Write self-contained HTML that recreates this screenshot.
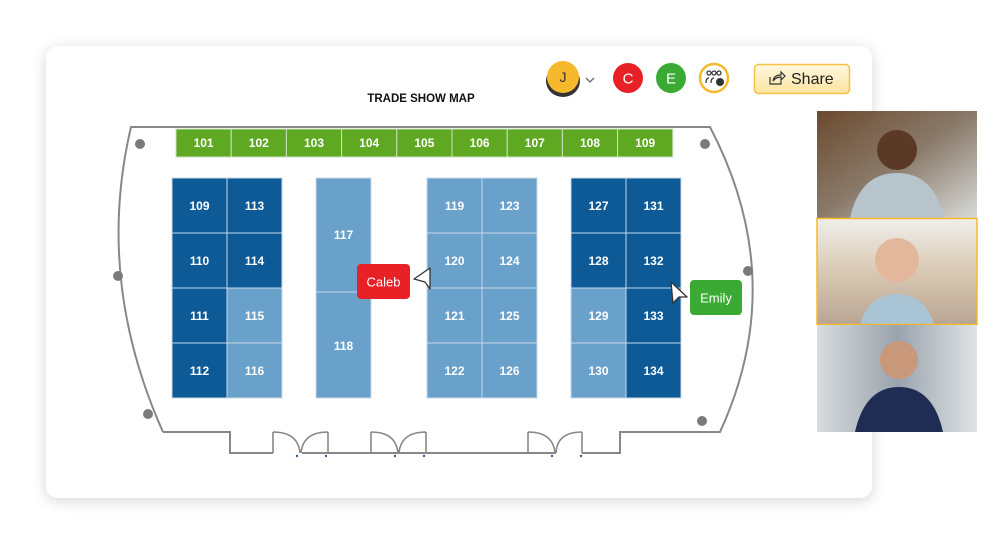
<!DOCTYPE html><html><head><style>body{margin:0;background:#fff;width:1000px;height:550px;overflow:hidden;font-family:"Liberation Sans",sans-serif}</style></head><body>
<svg width="1000" height="550" xmlns="http://www.w3.org/2000/svg" font-family="Liberation Sans, sans-serif">
<defs><filter id="sh" x="-10%" y="-10%" width="120%" height="130%"><feDropShadow dx="0" dy="3" stdDeviation="7" flood-color="#000" flood-opacity="0.16"/></filter>
<linearGradient id="sg" x1="0" y1="0" x2="0" y2="1"><stop offset="0" stop-color="#fff8e0"/><stop offset="1" stop-color="#fbe4a0"/></linearGradient>
<linearGradient id="v1" x1="0" y1="0" x2="1" y2="1"><stop offset="0" stop-color="#6b4a2e"/><stop offset=".5" stop-color="#8a7a6a"/><stop offset="1" stop-color="#d8dad8"/></linearGradient>
<linearGradient id="v2" x1="0" y1="0" x2="0" y2="1"><stop offset="0" stop-color="#f0eeea"/><stop offset=".5" stop-color="#d9c9b4"/><stop offset="1" stop-color="#b9a594"/></linearGradient>
<linearGradient id="v3" x1="0" y1="0" x2="1" y2="0"><stop offset="0" stop-color="#d8dcde"/><stop offset=".5" stop-color="#9aa3ad"/><stop offset="1" stop-color="#dfe3e6"/></linearGradient></defs>
<rect x="46" y="46" width="826" height="452" rx="12" fill="#fff" filter="url(#sh)"/>
<text x="421" y="102" text-anchor="middle" font-size="11.5" font-weight="bold" fill="#111">TRADE SHOW MAP</text>
<path d="M163,432 Q95,280 131,127 L710,127 Q790,280 720,432 L620,432 L620,453 L582,453 M556,453 L528,453 M426,453 L371,453 M328,453 L302,453 M273,453 L230,453 L230,432 L163,432" fill="none" stroke="#888" stroke-width="2"/>
<path d="M230,453 L273,453 M328,453 L371,453 M426,453 L528,453 M582,453 L620,453" stroke="#888" stroke-width="2"/>
<path d="M273,432 Q298,432 300,453 M328,432 Q303,432 301,453 M371,432 Q396,432 398,453 M426,432 Q401,432 399,453 M528,432 Q553,432 555,453 M582,432 Q557,432 556,453 M273,432 V453 M328,432V453 M371,432V453 M426,432V453 M528,432V453 M582,432V453" fill="none" stroke="#888" stroke-width="1.6"/>
<g fill="#2a5a9a"><circle cx="297" cy="456" r="1.2"/><circle cx="326" cy="456" r="1.2"/><circle cx="395" cy="456" r="1.2"/><circle cx="424" cy="456" r="1.2"/><circle cx="552" cy="456" r="1.2"/><circle cx="581" cy="456" r="1.2"/></g>
<g fill="#7a7a7a"><circle cx="140" cy="144" r="5"/><circle cx="118" cy="276" r="5"/><circle cx="148" cy="414" r="5"/><circle cx="705" cy="144" r="5"/><circle cx="748" cy="271" r="5"/><circle cx="702" cy="421" r="5"/></g>
<g stroke="#cfe0c0" stroke-width="1" fill="#5fa821">
<rect x="176" y="129" width="55.2" height="28"/><rect x="231.2" y="129" width="55.2" height="28"/><rect x="286.4" y="129" width="55.2" height="28"/><rect x="341.6" y="129" width="55.2" height="28"/><rect x="396.8" y="129" width="55.2" height="28"/><rect x="452" y="129" width="55.2" height="28"/><rect x="507.2" y="129" width="55.2" height="28"/><rect x="562.4" y="129" width="55.2" height="28"/><rect x="617.6" y="129" width="55.2" height="28"/></g>
<g fill="#fff" font-size="12" font-weight="bold" text-anchor="middle">
<text x="203.6" y="147">101</text><text x="258.8" y="147">102</text><text x="314" y="147">103</text><text x="369.2" y="147">104</text><text x="424.4" y="147">105</text><text x="479.6" y="147">106</text><text x="534.8" y="147">107</text><text x="590" y="147">108</text><text x="645.2" y="147">109</text></g>
<g stroke="#c8d8e8" stroke-width="1">
<rect x="172" y="178" width="55" height="55" fill="#0d5a96"/><rect x="172" y="233" width="55" height="55" fill="#0d5a96"/><rect x="172" y="288" width="55" height="55" fill="#0d5a96"/><rect x="172" y="343" width="55" height="55" fill="#0d5a96"/>
<rect x="227" y="178" width="55" height="55" fill="#0d5a96"/><rect x="227" y="233" width="55" height="55" fill="#0d5a96"/><rect x="227" y="288" width="55" height="55" fill="#69a1cb"/><rect x="227" y="343" width="55" height="55" fill="#69a1cb"/>
<rect x="316" y="178" width="55" height="114" fill="#69a1cb"/><rect x="316" y="292" width="55" height="106" fill="#69a1cb"/>
<rect x="427" y="178" width="55" height="55" fill="#69a1cb"/><rect x="427" y="233" width="55" height="55" fill="#69a1cb"/><rect x="427" y="288" width="55" height="55" fill="#69a1cb"/><rect x="427" y="343" width="55" height="55" fill="#69a1cb"/>
<rect x="482" y="178" width="55" height="55" fill="#69a1cb"/><rect x="482" y="233" width="55" height="55" fill="#69a1cb"/><rect x="482" y="288" width="55" height="55" fill="#69a1cb"/><rect x="482" y="343" width="55" height="55" fill="#69a1cb"/>
<rect x="571" y="178" width="55" height="55" fill="#0d5a96"/><rect x="571" y="233" width="55" height="55" fill="#0d5a96"/><rect x="571" y="288" width="55" height="55" fill="#69a1cb"/><rect x="571" y="343" width="55" height="55" fill="#69a1cb"/>
<rect x="626" y="178" width="55" height="55" fill="#0d5a96"/><rect x="626" y="233" width="55" height="55" fill="#0d5a96"/><rect x="626" y="288" width="55" height="55" fill="#0d5a96"/><rect x="626" y="343" width="55" height="55" fill="#0d5a96"/></g>
<g fill="#fff" font-size="12" font-weight="bold" text-anchor="middle">
<text x="199.5" y="210">109</text><text x="199.5" y="265">110</text><text x="199.5" y="320">111</text><text x="199.5" y="375">112</text>
<text x="254.5" y="210">113</text><text x="254.5" y="265">114</text><text x="254.5" y="320">115</text><text x="254.5" y="375">116</text>
<text x="343.5" y="239">117</text><text x="343.5" y="350">118</text>
<text x="454.5" y="210">119</text><text x="454.5" y="265">120</text><text x="454.5" y="320">121</text><text x="454.5" y="375">122</text>
<text x="509.5" y="210">123</text><text x="509.5" y="265">124</text><text x="509.5" y="320">125</text><text x="509.5" y="375">126</text>
<text x="598.5" y="210">127</text><text x="598.5" y="265">128</text><text x="598.5" y="320">129</text><text x="598.5" y="375">130</text>
<text x="653.5" y="210">131</text><text x="653.5" y="265">132</text><text x="653.5" y="320">133</text><text x="653.5" y="375">134</text></g>
<rect x="357" y="264" width="53" height="35" rx="4" fill="#e82127"/><text x="383.5" y="286.5" text-anchor="middle" font-size="13" fill="#fff">Caleb</text>
<path d="M414,279 L430,268 L430,289 L425,282 Z" fill="#fff" stroke="#333" stroke-width="1.3" stroke-linejoin="round"/>
<rect x="690" y="280" width="52" height="35" rx="4" fill="#3aaa35"/><text x="716" y="302.5" text-anchor="middle" font-size="13" fill="#fff">Emily</text>
<path d="M671,282 L687,297 L679,297 L673,303 Z" fill="#fff" stroke="#333" stroke-width="1.3" stroke-linejoin="round"/>
<ellipse cx="563" cy="81" rx="17" ry="16" fill="#333"/><circle cx="563" cy="77" r="16" fill="#f6b92c"/><text x="563" y="82" text-anchor="middle" font-size="14" fill="#333">J</text>
<path d="M586,78 L590,82 L594,78" fill="none" stroke="#666" stroke-width="1.3"/>
<circle cx="628" cy="78" r="15" fill="#e82127"/><text x="628" y="83.5" text-anchor="middle" font-size="15" fill="#fff">C</text>
<circle cx="671" cy="78" r="15" fill="#3aaa35"/><text x="671" y="83.5" text-anchor="middle" font-size="15" fill="#fff">E</text>
<circle cx="714" cy="78" r="14" fill="#fff" stroke="#f6b92c" stroke-width="2.5"/>
<g fill="none" stroke="#333" stroke-width="1.2"><circle cx="709" cy="73" r="2"/><circle cx="714" cy="73" r="2"/><circle cx="719" cy="73" r="2"/><path d="M706,83 q0,-5 3,-5 M711,83 q0,-5 3,-5"/></g><circle cx="720" cy="82" r="4" fill="#333"/>
<rect x="754.5" y="64.5" width="95" height="29" rx="4" fill="url(#sg)" stroke="#f5c244" stroke-width="1.5"/>
<path d="M770,77 v7 h11 v-3 M773,81 q1,-6 8,-6 v-3 l4,4 -4,4 v-3 q-5,0 -8,4z" fill="none" stroke="#333" stroke-width="1.2"/>
<text x="791" y="84" font-size="16" fill="#222">Share</text>
<rect x="817" y="111" width="160" height="107" fill="url(#v1)"/>
<circle cx="897" cy="150" r="20" fill="#5a3a26"/><path d="M850,218 q10,-45 47,-45 q37,0 47,45z" fill="#b8c4cc"/>
<rect x="817" y="219" width="160" height="105" fill="url(#v2)"/>
<circle cx="897" cy="260" r="22" fill="#e2b79c"/><path d="M860,324 q10,-30 37,-30 q27,0 37,30z" fill="#a9c4d4"/>
<rect x="817" y="218.5" width="160" height="106" fill="none" stroke="#f6b92c" stroke-width="1.5"/>
<rect x="817" y="325" width="160" height="107" fill="url(#v3)"/>
<circle cx="899" cy="360" r="19" fill="#c9987a"/><path d="M855,432 q10,-45 44,-45 q34,0 44,45z" fill="#1f2d55"/>
</svg></body></html>
